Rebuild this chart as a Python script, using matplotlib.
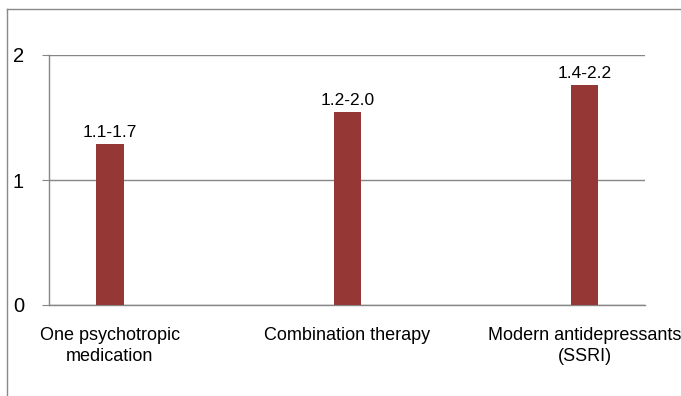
import matplotlib
matplotlib.use("Agg")
import matplotlib.pyplot as plt
from matplotlib.lines import Line2D

categories = ["One psychotropic\nmedication", "Combination therapy", "Modern antidepressants\n(SSRI)"]
values = [1.29, 1.545, 1.76]
value_labels = ["1.1-1.7", "1.2-2.0", "1.4-2.2"]
yticks = [0, 1, 2]

plt.rcParams['font.family'] = ['Liberation Sans', 'DejaVu Sans']

W, H = 681, 396
fig = plt.figure(figsize=(W / 100, H / 100), dpi=100)
ax = fig.add_axes([49 / W, 1 - 305 / H, (645 - 49) / W, (305 - 55) / H])

bar_color = "#953735"
grid_color = "#868686"

x = list(range(len(categories)))
bars = ax.bar(x, values, width=0.114, color=bar_color, zorder=3)

ax.set_ylim(0, 2)
ax.set_xlim(-0.257, 2.255)
ax.set_yticks(yticks)
ax.set_yticklabels([str(t) for t in yticks], fontsize=14.5)
ax.set_xticks(x)
ax.set_xticklabels(categories, fontsize=13, linespacing=1.3)

ax.yaxis.grid(True, color=grid_color, linewidth=1, zorder=0)
ax.set_axisbelow(True)
for s in ["top", "right"]:
    ax.spines[s].set_visible(False)
for s in ["left", "bottom"]:
    ax.spines[s].set_color(grid_color)
    ax.spines[s].set_linewidth(1)

ax.tick_params(axis="y", length=5, color=grid_color, pad=13)
ax.tick_params(axis="x", length=0, pad=16)

for xi, v, lab in zip(x, values, value_labels):
    ax.annotate(lab, (xi, v), xytext=(0, 3), textcoords="offset points",
                ha="center", va="bottom", fontsize=12.5)

# outer chart-area frame (cropped at right and bottom)
fig.add_artist(Line2D([7 / W, 7 / W], [0, 1 - 9 / H], transform=fig.transFigure,
                      color="#898989", linewidth=1))
fig.add_artist(Line2D([7 / W, 1], [1 - 9 / H, 1 - 9 / H], transform=fig.transFigure,
                      color="#898989", linewidth=1))

fig.savefig("out.png", dpi=100)
